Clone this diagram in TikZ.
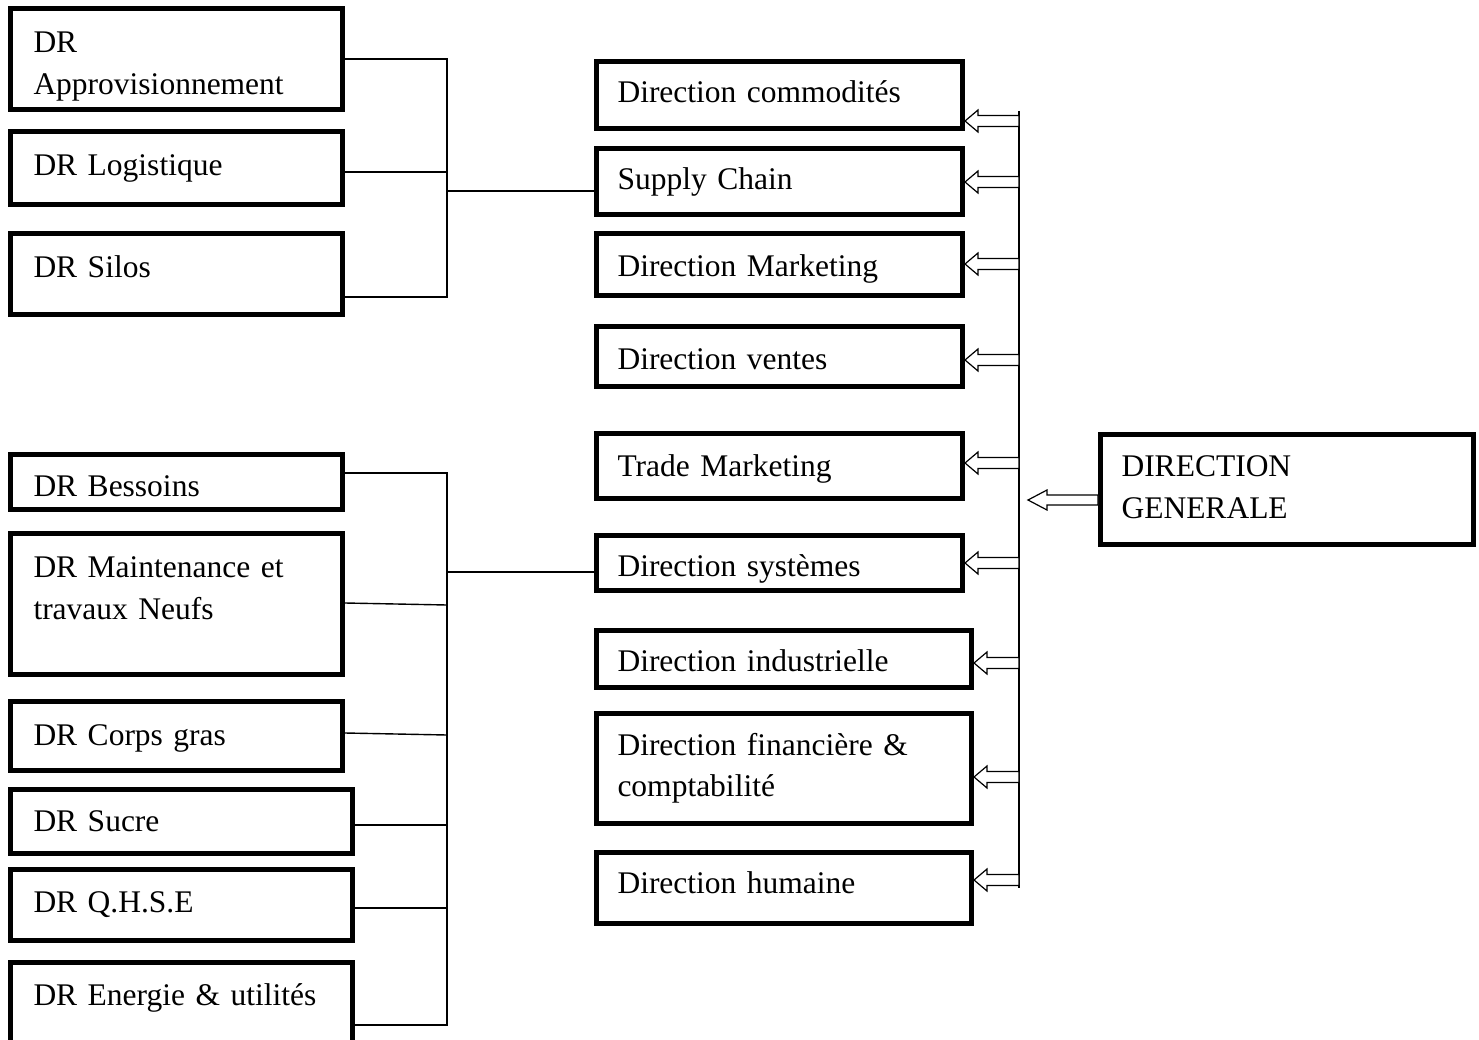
\documentclass[tikz,border=0pt]{standalone}
\usepackage{fontspec}
\setmainfont{Liberation Serif}
\usetikzlibrary{calc}
\tikzset{
  box/.style={draw, line width=5pt, anchor=north west, align=left, inner xsep=21pt, inner ysep=4pt,
    font=\fontsize{31.5}{41.5}\selectfont},
  lbox/.style={box, inner xsep=23pt},
  ln/.style={line width=1.4pt},
  blk/.style={line width=1.2pt, fill=white, line join=miter}
}
% struts to place the text baseline as in the reference
\newcommand\sh[1]{\rule{0pt}{#1pt}}
\newcommand\sd[1]{\rule[-#1pt]{0pt}{#1pt}}
\newcommand\blkarr[3]{\draw[blk] (#1.east |- 0,#2) -- ++(13,-11) -- ++(0,5.5) -- (#3,#2-5.5) -- (#3,#2+5.5) -- ($(#1.east |- 0,#2)+(13,5.5)$) -- ++(0,5.5) -- cycle;}
\begin{document}
\begin{tikzpicture}[x=1pt,y=-1pt]
\useasboundingbox (0,0) rectangle (1479,1040);
\clip (0,0) rectangle (1479,1040);
% left top group
\node[lbox, minimum width=332, minimum height=101, text width=286] (dra) at (8,6) {\sh{36}DR\\Approvisionnement};
\node[lbox, minimum width=332, minimum height=73, text width=286] (drl) at (8,129) {DR Logistique};
\node[lbox, minimum width=332, minimum height=81, text width=286] (drs) at (8,231) {DR Silos\sd{14}};
% left bottom group
\node[lbox, minimum width=332, minimum height=55, text width=286] (drb) at (8,452) {\sh{30}DR Bessoins};
\node[lbox, minimum width=332, minimum height=141, text width=286] (drm) at (8,531) {\sh{30}DR Maintenance et\\travaux Neufs\\\mbox{}};
\node[lbox, minimum width=332, minimum height=69, text width=286] (drc) at (8,699) {\sh{26}DR Corps gras};
\node[lbox, minimum width=342, minimum height=64, text width=296] (drsu) at (8,787) {DR Sucre};
\node[lbox, minimum width=342, minimum height=71, text width=296] (drq) at (8,867) {DR Q.H.S.E};
\node[lbox, minimum width=342, minimum height=105, text width=296] (dre) at (8,960) {DR Energie \& utilités\\\mbox{}};
% middle column
\node[box, minimum width=366, minimum height=67, text width=324] (com) at (594,59) {Direction commodités\sd{6}};
\node[box, minimum width=366, minimum height=66, text width=324] (sup) at (594,146) {Supply Chain};
\node[box, minimum width=366, minimum height=62, text width=324] (mkt) at (594,231) {\sh{30}Direction Marketing};
\node[box, minimum width=366, minimum height=60, text width=324] (ven) at (594,324) {\sh{26}Direction ventes};
\node[box, minimum width=366, minimum height=65, text width=324] (trd) at (594,431) {\sh{28}Trade Marketing};
\node[box, minimum width=366, minimum height=55, text width=324] (sys) at (594,533) {\sh{34}Direction systèmes};
\node[box, minimum width=375, minimum height=57, text width=333] (ind) at (594,628) {\sh{26}Direction industrielle};
\node[box, minimum width=375, minimum height=110, text width=333] (fin) at (594,711) {Direction financière \&\\comptabilité};
\node[box, minimum width=375, minimum height=71, text width=333] (hum) at (594,850) {Direction humaine\sd{10}};
% right
\node[box, minimum width=373, minimum height=110, text width=331] (dg) at (1098,432) {DIRECTION\\GENERALE\sd{5}};
% top left connectors
\draw[ln] (dra.east |- 0,59) -- (447,59) -- (447,297) -- (drs.east |- 0,297);
\draw[ln] (drl.east |- 0,172) -- (447,172);
\draw[ln] (447,191) -- (sup.west |- 0,191);
% bottom left connectors
\draw[ln] (drb.east |- 0,473) -- (447,473) -- (447,1025) -- (dre.east |- 0,1025);
\draw[ln] (drm.east |- 0,603) -- (447,605);
\draw[ln] (drc.east |- 0,733) -- (447,735);
\draw[ln] (drsu.east |- 0,825) -- (447,825);
\draw[ln] (drq.east |- 0,908) -- (447,908);
\draw[ln] (447,572) -- (sys.west |- 0,572);
% bus
\coordinate (bustop) at (1019,111);
\coordinate (busbot) at (1019,888);
\draw[ln] (bustop) -- (busbot);
\blkarr{com}{121}{1019}
\blkarr{sup}{182}{1019}
\blkarr{mkt}{264}{1019}
\blkarr{ven}{360}{1019}
\blkarr{trd}{463}{1019}
\blkarr{sys}{563}{1019}
\blkarr{ind}{663}{1019}
\blkarr{fin}{777}{1019}
\blkarr{hum}{880}{1019}
% big arrow from DG
\coordinate (dgtip) at (1028,500);
\draw[blk] (dgtip) -- ++(19,-10) -- ++(0,5) -- (dg.west |- 0,495) -- (dg.west |- 0,505) -- ($(dgtip)+(19,5)$) -- ++(0,5) -- cycle;
\end{tikzpicture}
\end{document}
